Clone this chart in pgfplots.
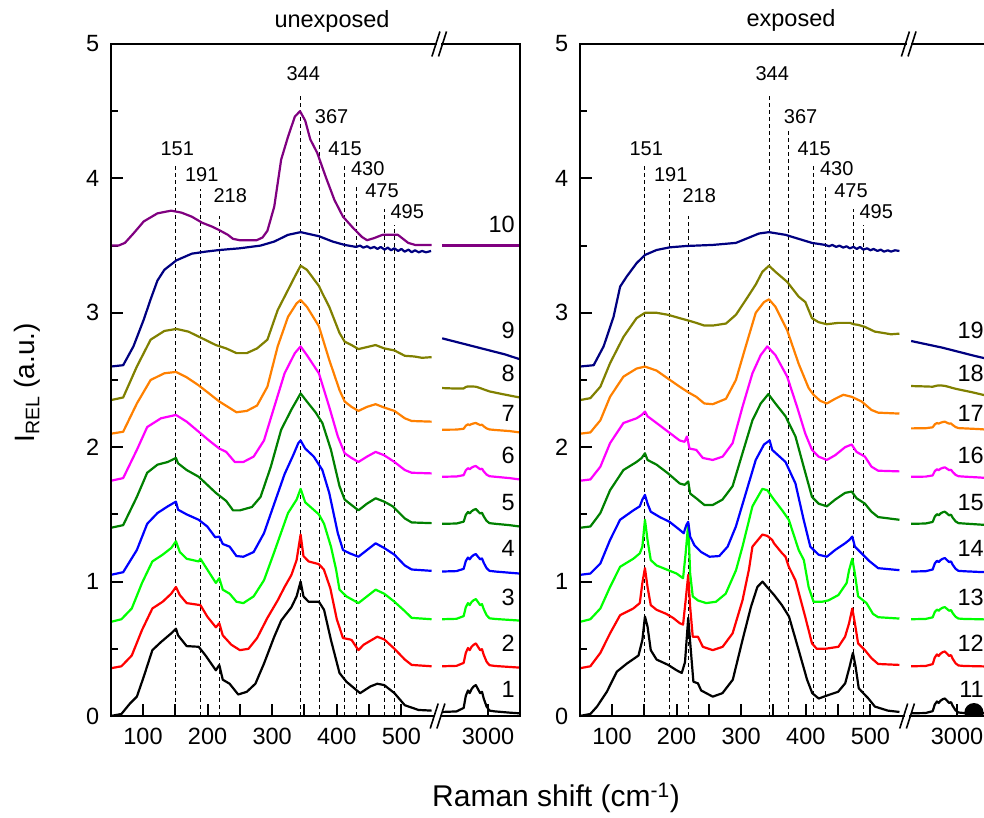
\documentclass[border=0pt]{standalone}
\usepackage{pgfplots}
\pgfplotsset{compat=1.18}
\usepackage{fontspec}
\setmainfont{Liberation Sans}
\definecolor{cred}{RGB}{255,0,0}
\definecolor{cgreen}{RGB}{0,255,0}
\definecolor{cblue}{RGB}{0,0,255}
\definecolor{cdgreen}{RGB}{0,128,0}
\definecolor{cmag}{RGB}{255,0,255}
\definecolor{corange}{RGB}{255,128,0}
\definecolor{colive}{RGB}{128,128,0}
\definecolor{cnavy}{RGB}{0,0,128}
\definecolor{cpurple}{RGB}{128,0,128}
\tikzset{
  dl/.style={black, line width=1pt, dash pattern=on 4pt off 3pt},
  pl/.style={anchor=base, font=\fontsize{20}{20}\selectfont, inner sep=0pt},
  nl/.style={anchor=base east, font=\fontsize{23.5}{23.5}\selectfont, inner sep=0pt}
}
\pgfplotsset{
  base/.style={scale only axis, height=672pt, ymin=0, ymax=5, anchor=south west,
    axis line style={draw=none}, tick align=inside, tick pos=left,
    every tick/.style={black, line width=2pt},
    major tick length=12pt, minor tick length=7pt,
    tick label style={font=\fontsize{23.5}{23.5}\selectfont},
    /pgf/number format/assume math mode=true,
    /pgf/number format/1000 sep={},
    xticklabel style={yshift=-9pt}, yticklabel style={xshift=-8pt},
    clip=false,
    every axis plot/.append style={line width=2.2pt, line join=round, no markers}},
  subA/.style={base, width=323.3pt, xmin=50, xmax=550.5,
    xtick={100,150,...,500}, xticklabels={100,,200,,300,,400,,500},
    ytick={0,1,2,3,4,5}, minor ytick={0.5,1.5,2.5,3.5,4.5}},
  subB/.style={base, width=79pt, xmin=2672, xmax=3223, xtick={3000}, xticklabels={3000}, ytick=\empty}
}
\newcommand{\peaklines}{%
  \draw[dl] (axis cs:151,0) -- (axis cs:151,4.09);
  \draw[dl] (axis cs:189,0) -- (axis cs:189,3.92);
  \draw[dl] (axis cs:218,0) -- (axis cs:218,3.72);
  \draw[dl] (axis cs:344,0) -- (axis cs:344,4.62);
  \draw[dl] (axis cs:373,0) -- (axis cs:373,4.35);
  \draw[dl] (axis cs:412,0) -- (axis cs:412,4.10);
  \draw[dl] (axis cs:430,0) -- (axis cs:430,3.94);
  \draw[dl] (axis cs:474,0) -- (axis cs:474,3.77);
  \draw[dl] (axis cs:489,0) -- (axis cs:489,3.65);
  \node[pl] at (axis cs:153,4.17) {151};
  \node[pl] at (axis cs:191,3.98) {191};
  \node[pl] at (axis cs:235,3.82) {218};
  \node[pl] at (axis cs:348,4.73) {344};
  \node[pl] at (axis cs:392,4.41) {367};
  \node[pl] at (axis cs:413,4.17) {415};
  \node[pl] at (axis cs:448,4.02) {430};
  \node[pl] at (axis cs:470,3.86) {475};
  \node[pl] at (axis cs:509,3.70) {495};
}
\begin{document}
\begin{tikzpicture}
% ================= LEFT PANEL (unexposed) =================
\begin{axis}[subA, at={(110.7pt,102pt)}]
\peaklines
\addplot[black] coordinates {(50,0.0)(66.6,0.015)(80,0.094)(90.5,0.144)(101,0.29)(114.5,0.49)(127.8,0.55)(143.7,0.615)(151,0.65)(154.3,0.60)(167.6,0.52)(186.2,0.515)(196.9,0.45)(212.8,0.34)(218.1,0.38)(223.5,0.27)(234.1,0.24)(247.4,0.16)(260.7,0.18)(274,0.24)(287.3,0.39)(303.2,0.59)(313.9,0.71)(329.8,0.81)(337.8,0.89)(344,1.0)(348.4,0.89)(356.4,0.85)(372.3,0.85)(380.3,0.79)(391,0.565)(404.2,0.32)(414.9,0.255)(436.1,0.17)(452.1,0.22)(462.7,0.24)(473.4,0.23)(489.3,0.17)(505.3,0.08)(526.5,0.045)(546.7,0.04)};
\addplot[cred] coordinates {(50,0.355)(66.6,0.37)(82.6,0.45)(98.5,0.64)(114.5,0.80)(130.4,0.85)(143.7,0.91)(151,0.96)(157,0.90)(167.6,0.84)(188.9,0.825)(199.5,0.74)(212.8,0.66)(218.1,0.69)(223.5,0.60)(236.8,0.53)(250,0.49)(263.3,0.50)(276.6,0.58)(292.6,0.73)(308.5,0.86)(319.2,0.96)(329.8,1.05)(337.8,1.16)(344,1.35)(348.4,1.19)(356.4,1.15)(372,1.13)(380,1.09)(390,0.95)(400,0.72)(409.6,0.58)(420,0.57)(423,0.565)(433.5,0.49)(441.5,0.53)(462.7,0.59)(473.4,0.57)(489.3,0.50)(505.3,0.42)(515.9,0.38)(546.7,0.37)};
\addplot[cgreen] coordinates {(50,0.70)(66.6,0.72)(82.6,0.80)(98.5,0.99)(114.5,1.15)(130.4,1.20)(143.7,1.25)(151,1.30)(157,1.22)(167.6,1.17)(186.2,1.15)(188.9,1.17)(199.5,1.09)(212.8,0.99)(218.1,1.025)(223.5,0.94)(234.1,0.91)(244.7,0.85)(255.4,0.84)(271.3,0.89)(287.3,1.01)(303.2,1.22)(324.5,1.51)(337.8,1.61)(344,1.69)(351.1,1.59)(372.3,1.50)(380.3,1.43)(391,1.26)(398.9,1.09)(404.2,0.94)(414.9,0.89)(433.5,0.84)(446.8,0.89)(460.1,0.94)(473.4,0.91)(489.3,0.85)(505.3,0.78)(515.9,0.73)(546.7,0.72)};
\addplot[cblue] coordinates {(50,1.05)(69.3,1.07)(90.5,1.235)(106.5,1.43)(122.4,1.51)(138.4,1.56)(151,1.595)(154.3,1.535)(167.6,1.50)(186.2,1.46)(199.5,1.41)(211.8,1.33)(218.1,1.335)(223.5,1.28)(234.1,1.26)(244.7,1.19)(255.4,1.185)(271.3,1.22)(287.3,1.36)(303.2,1.58)(319.2,1.80)(332.5,1.94)(340.4,2.03)(344,2.05)(351.1,1.99)(364.4,1.93)(377.7,1.83)(388.3,1.66)(401.6,1.36)(409.6,1.235)(420.2,1.21)(433.5,1.185)(446.8,1.235)(460.1,1.285)(473.4,1.25)(489.3,1.20)(505.3,1.12)(515.9,1.09)(546.7,1.08)};
\addplot[cdgreen] coordinates {(50,1.40)(69.3,1.42)(90.5,1.63)(106.5,1.81)(122.4,1.87)(138.4,1.89)(151,1.92)(154.3,1.88)(167.6,1.83)(186.2,1.78)(199.5,1.72)(212.8,1.66)(228.8,1.60)(239.4,1.53)(250,1.53)(268.7,1.555)(282,1.63)(297.9,1.855)(313.9,2.13)(329.8,2.28)(344,2.40)(353.7,2.34)(367,2.26)(377.7,2.18)(391,1.98)(404.2,1.71)(412.2,1.61)(422.8,1.57)(433.5,1.53)(446.8,1.58)(460.1,1.62)(473.4,1.595)(486.6,1.56)(505.3,1.47)(515.9,1.44)(546.7,1.435)};
\addplot[cmag] coordinates {(50,1.75)(69.3,1.77)(90.5,1.98)(106.5,2.15)(127.8,2.215)(151,2.24)(167.6,2.19)(186.2,2.115)(202.2,2.05)(218.1,1.99)(228.8,1.965)(242.1,1.89)(255.4,1.89)(271.3,1.93)(287.3,2.05)(303.2,2.30)(319.2,2.55)(335.1,2.70)(344,2.75)(353.7,2.685)(372.3,2.55)(388.3,2.30)(401.6,2.08)(412.2,1.955)(422.8,1.92)(433.5,1.89)(446.8,1.93)(460.1,1.965)(473.4,1.94)(489.3,1.89)(505.3,1.83)(515.9,1.81)(546.7,1.805)};
\addplot[corange] coordinates {(50,2.10)(69.3,2.115)(90.5,2.325)(111.8,2.50)(133.1,2.55)(151,2.56)(167.6,2.52)(186.2,2.46)(202.2,2.40)(218.1,2.34)(231.4,2.30)(244.7,2.26)(260.7,2.27)(276.6,2.31)(292.6,2.45)(308.5,2.75)(324.5,2.97)(337.8,3.07)(344,3.095)(353.7,3.045)(372.3,2.90)(388.3,2.65)(404.2,2.425)(412.2,2.34)(422.8,2.30)(433.5,2.27)(446.8,2.30)(460.1,2.32)(473.4,2.295)(489.3,2.27)(505.3,2.215)(515.9,2.195)(546.7,2.19)};
\addplot[colive] coordinates {(50,2.35)(69.3,2.37)(90.5,2.60)(111.8,2.80)(133.1,2.865)(151.7,2.88)(170.3,2.86)(191.6,2.81)(212.8,2.76)(228.8,2.735)(244.7,2.70)(260.7,2.70)(276.6,2.735)(292.6,2.80)(308.5,3.02)(324.5,3.17)(335.1,3.27)(344,3.35)(353.7,3.32)(372.3,3.20)(377.7,3.145)(388.3,3.045)(404.2,2.85)(412.2,2.785)(422.8,2.76)(433.5,2.73)(446.8,2.745)(460.1,2.76)(473.4,2.735)(489.3,2.72)(505.3,2.68)(520,2.675)(532,2.665)(546.7,2.67)};
\addplot[cnavy] coordinates {(50,2.60)(69.3,2.61)(85.2,2.75)(101.2,2.95)(111.8,3.10)(122.4,3.24)(133.1,3.32)(151.7,3.39)(175.6,3.44)(196.9,3.455)(218.1,3.467)(250,3.48)(282,3.50)(303.2,3.53)(324.5,3.58)(344,3.60)(372.3,3.57)(393.6,3.53)(412.2,3.505)(430,3.49)(436,3.50)(441,3.485)(447,3.495)(452,3.48)(458,3.49)(463,3.475)(468,3.49)(474,3.47)(479,3.485)(484,3.465)(489,3.48)(495,3.46)(500,3.475)(505,3.455)(511,3.47)(516,3.45)(521,3.465)(527,3.45)(532,3.46)(538,3.45)(546,3.46)};
\addplot[cpurple] coordinates {(50,3.50)(62,3.50)(72,3.52)(85.2,3.59)(101.2,3.68)(122.4,3.74)(143.7,3.76)(159.7,3.745)(175.6,3.715)(191.6,3.67)(207.5,3.64)(218.1,3.615)(231.4,3.58)(239.4,3.55)(250,3.54)(276,3.54)(285,3.56)(292.6,3.61)(303.2,3.79)(313.9,4.14)(324.5,4.31)(335.1,4.46)(343.1,4.50)(351.1,4.43)(359,4.29)(369.7,4.19)(383,4.01)(396.3,3.84)(409.6,3.715)(425.5,3.63)(438.8,3.565)(446.8,3.54)(457.4,3.555)(470.7,3.58)(494.6,3.58)(510.6,3.52)(521.2,3.505)(546.7,3.505)};
\end{axis}
\begin{axis}[subB, at={(441pt,102pt)}]
\addplot[black] coordinates {(2680,0.03)(2780,0.034)(2830,0.06)(2845,0.15)(2860,0.19)(2872,0.17)(2885,0.20)(2900,0.22)(2915,0.23)(2930,0.20)(2945,0.17)(2958,0.18)(2970,0.13)(2990,0.07)(3010,0.04)(3050,0.034)(3150,0.025)(3220,0.02)};
\addplot[cred] coordinates {(2680,0.37)(2780,0.373)(2830,0.395)(2845,0.47)(2860,0.506)(2872,0.49)(2885,0.515)(2900,0.53)(2915,0.54)(2930,0.515)(2945,0.49)(2958,0.497)(2970,0.455)(2990,0.404)(3010,0.378)(3050,0.372)(3150,0.365)(3220,0.36)};
\addplot[cgreen] coordinates {(2680,0.72)(2780,0.723)(2830,0.743)(2845,0.81)(2860,0.84)(2872,0.825)(2885,0.848)(2900,0.862)(2915,0.87)(2930,0.848)(2945,0.825)(2958,0.832)(2970,0.795)(2990,0.75)(3010,0.727)(3050,0.722)(3150,0.715)(3220,0.71)};
\addplot[cblue] coordinates {(2680,1.075)(2780,1.078)(2830,1.095)(2845,1.153)(2860,1.179)(2872,1.166)(2885,1.185)(2900,1.198)(2915,1.205)(2930,1.185)(2945,1.166)(2958,1.172)(2970,1.14)(2990,1.10)(3010,1.08)(3050,1.075)(3150,1.066)(3220,1.06)};
\addplot[cdgreen] coordinates {(2680,1.43)(2780,1.432)(2830,1.446)(2845,1.496)(2860,1.518)(2872,1.507)(2885,1.523)(2900,1.534)(2915,1.54)(2930,1.523)(2945,1.507)(2958,1.512)(2970,1.485)(2990,1.452)(3010,1.435)(3050,1.43)(3150,1.42)(3220,1.41)};
\addplot[cmag] coordinates {(2680,1.78)(2780,1.782)(2830,1.792)(2845,1.828)(2860,1.844)(2872,1.836)(2885,1.848)(2900,1.856)(2915,1.86)(2930,1.848)(2945,1.836)(2958,1.84)(2970,1.82)(2990,1.796)(3010,1.784)(3050,1.78)(3150,1.77)(3220,1.76)};
\addplot[corange] coordinates {(2680,2.13)(2780,2.131)(2830,2.137)(2845,2.16)(2860,2.17)(2872,2.165)(2885,2.172)(2900,2.177)(2915,2.18)(2930,2.172)(2945,2.165)(2958,2.167)(2970,2.155)(2990,2.14)(3010,2.132)(3050,2.128)(3150,2.12)(3220,2.11)};
\addplot[colive] coordinates {(2680,2.44)(2780,2.436)(2830,2.437)(2845,2.448)(2860,2.452)(2885,2.452)(2915,2.45)(2945,2.44)(2970,2.43)(3010,2.415)(3100,2.395)(3220,2.37)};
\addplot[cnavy] coordinates {(2680,2.81)(2790,2.78)(2900,2.75)(3010,2.72)(3120,2.69)(3220,2.655)};
\addplot[cpurple] coordinates {(2680,3.50)(3220,3.50)};
\node[nl] at (axis cs:3188,0.14) {1};
\node[nl] at (axis cs:3188,0.48) {2};
\node[nl] at (axis cs:3188,0.82) {3};
\node[nl] at (axis cs:3188,1.19) {4};
\node[nl] at (axis cs:3188,1.53) {5};
\node[nl] at (axis cs:3188,1.88) {6};
\node[nl] at (axis cs:3188,2.19) {7};
\node[nl] at (axis cs:3188,2.49) {8};
\node[nl] at (axis cs:3188,2.81) {9};
\node[nl] at (axis cs:3188,3.60) {10};
\end{axis}
% ================= RIGHT PANEL (exposed) =================
\begin{axis}[subA, at={(579.7pt,102pt)}]
\peaklines
\addplot[black] coordinates {(50,0)(66.5,0.015)(76.8,0.07)(92,0.18)(107.5,0.33)(123,0.39)(141,0.45)(147,0.565)(151,0.74)(155,0.665)(160,0.49)(169,0.42)(187,0.38)(200,0.34)(208,0.32)(213,0.40)(218,0.73)(222,0.49)(226,0.255)(233,0.243)(238,0.19)(256,0.144)(271,0.17)(287,0.27)(302,0.565)(315,0.81)(325,0.96)(333,1.0)(340,0.96)(351,0.90)(363,0.825)(374,0.74)(389,0.49)(402,0.27)(410,0.17)(420,0.13)(435,0.156)(450,0.18)(461,0.243)(468,0.37)(473,0.47)(477,0.37)(482,0.206)(489,0.17)(497,0.13)(507,0.07)(527,0.04)(545,0.03)};
\addplot[cred] coordinates {(50,0.355)(66.5,0.37)(82,0.47)(97,0.615)(112.5,0.75)(133,0.80)(143,0.84)(147,0.99)(151,1.10)(155,0.96)(160,0.825)(169,0.79)(184,0.76)(194.5,0.73)(205,0.69)(210,0.68)(214,0.86)(218,1.05)(221,0.81)(225,0.59)(233,0.59)(240.6,0.515)(256,0.49)(271.3,0.515)(286.7,0.615)(302,0.86)(312,1.09)(317.4,1.26)(332.8,1.35)(340.4,1.34)(348,1.31)(350.7,1.285)(363.5,1.21)(368.6,1.185)(373.7,1.11)(384,1.01)(399,0.74)(409.6,0.54)(417,0.50)(430,0.50)(450.5,0.515)(460.8,0.59)(467,0.69)(472,0.80)(476,0.69)(481,0.54)(491.5,0.49)(501.7,0.43)(512,0.387)(545,0.38)};
\addplot[cgreen] coordinates {(50,0.70)(66.5,0.72)(82,0.80)(97,0.96)(112.5,1.11)(133,1.17)(143,1.21)(147,1.26)(151,1.46)(155,1.31)(160,1.16)(169,1.12)(187,1.085)(200,1.06)(210,1.025)(214,1.21)(218,1.43)(221,1.06)(225,0.89)(233,0.86)(245.7,0.84)(261,0.85)(276,0.91)(292,1.085)(302,1.26)(317.4,1.56)(332.8,1.69)(340.4,1.68)(350.7,1.61)(363.5,1.53)(373.7,1.46)(389,1.235)(397,1.16)(404.4,0.96)(412,0.85)(425,0.85)(435,0.86)(450.5,0.90)(463.3,0.99)(467,1.085)(472,1.17)(476,1.06)(481,0.89)(494,0.84)(504,0.76)(512,0.735)(545,0.725)};
\addplot[cblue] coordinates {(50,1.05)(66.5,1.06)(82,1.135)(97,1.31)(112.5,1.46)(133,1.53)(143,1.56)(147,1.61)(151,1.645)(155,1.58)(160,1.52)(174,1.48)(189,1.445)(204.8,1.385)(211,1.36)(215,1.42)(218,1.445)(221,1.335)(227.7,1.27)(238,1.22)(250.9,1.185)(266,1.19)(279,1.26)(291.8,1.41)(307,1.655)(322.5,1.905)(335.3,2.02)(344,2.05)(348,1.98)(368.6,1.89)(384,1.73)(396.7,1.46)(407,1.26)(419.8,1.20)(432.6,1.185)(445.4,1.235)(460.8,1.285)(467.4,1.31)(472,1.335)(476,1.26)(486.4,1.21)(499,1.15)(512,1.10)(545,1.085)};
\addplot[cdgreen] coordinates {(50,1.40)(66.5,1.41)(82,1.51)(97,1.68)(117.7,1.83)(138,1.89)(146,1.92)(151,1.955)(155,1.905)(169,1.87)(186.8,1.805)(204.8,1.73)(212.4,1.72)(218,1.745)(221,1.655)(230.4,1.62)(243,1.57)(256,1.57)(271,1.61)(286.7,1.71)(302,1.955)(317.4,2.20)(330.2,2.325)(342,2.395)(353,2.325)(368.6,2.23)(384,2.08)(396.7,1.855)(409.6,1.63)(419.8,1.58)(432.6,1.56)(445.4,1.61)(460.8,1.66)(471,1.67)(478.6,1.62)(491.5,1.58)(501.7,1.52)(512,1.48)(545,1.46)};
\addplot[cmag] coordinates {(50,1.75)(66.5,1.76)(82,1.855)(97,2.03)(117.7,2.18)(138,2.215)(146,2.24)(151,2.265)(155,2.23)(169,2.18)(186.8,2.115)(204.8,2.05)(212.4,2.04)(216,2.08)(220,1.99)(230.4,1.98)(240.6,1.92)(256,1.905)(271.3,1.93)(286.7,2.03)(302,2.30)(317.4,2.55)(330.2,2.685)(340.4,2.75)(353,2.685)(371.2,2.525)(386.5,2.30)(399.3,2.10)(409.6,1.98)(419.8,1.93)(432.6,1.905)(445.4,1.94)(460.8,2.0)(471,2.02)(478.6,1.965)(491.5,1.93)(501.7,1.855)(512,1.825)(545,1.82)};
\addplot[corange] coordinates {(50,2.10)(66.5,2.11)(82,2.20)(97,2.375)(117.7,2.525)(138,2.585)(151,2.60)(169,2.57)(186.8,2.51)(204.8,2.45)(217.6,2.41)(230.4,2.375)(243,2.325)(256,2.32)(276.4,2.36)(291.8,2.50)(307,2.75)(322.5,3.0)(335.3,3.08)(343,3.10)(353,3.045)(371.2,2.87)(389,2.62)(404.4,2.44)(412,2.39)(422.3,2.345)(432.6,2.325)(445.4,2.36)(458,2.39)(471,2.375)(486.4,2.34)(501.7,2.277)(512,2.257)(545,2.25)};
\addplot[colive] coordinates {(50,2.35)(66.5,2.365)(82,2.45)(97,2.625)(117.7,2.82)(138,2.96)(151,3.0)(169,3.0)(186.8,2.985)(204.8,2.96)(220,2.94)(230.4,2.925)(243,2.905)(256,2.905)(276.4,2.92)(291.8,2.985)(307,3.095)(322.5,3.21)(332.8,3.305)(343,3.35)(353,3.305)(371.2,3.23)(389,3.12)(399.3,3.08)(409.6,2.96)(419.8,2.93)(432.6,2.915)(450.5,2.925)(468.4,2.925)(474,2.915)(481.2,2.91)(491.5,2.895)(506.8,2.86)(520,2.85)(532,2.84)(545,2.845)};
\addplot[cnavy] coordinates {(50,2.60)(71.6,2.61)(87,2.75)(102.4,2.97)(112.6,3.195)(122.8,3.27)(138.2,3.37)(151,3.43)(168.9,3.467)(189.4,3.487)(215,3.497)(256,3.505)(291.8,3.52)(307.2,3.55)(327.6,3.59)(343,3.60)(368.6,3.58)(389,3.55)(409.6,3.52)(430,3.505)(436,3.495)(441,3.505)(447,3.49)(452,3.50)(458,3.485)(463,3.495)(468,3.48)(474,3.49)(479,3.475)(484,3.49)(489,3.47)(495,3.48)(500,3.465)(505,3.475)(511,3.46)(516,3.47)(521,3.455)(527,3.465)(532,3.455)(538,3.465)(545,3.46)};
\end{axis}
\begin{axis}[subB, at={(910pt,102pt)}, clip=true, clip marker paths=true]
\addplot[black] coordinates {(2680,0.02)(2780,0.022)(2830,0.036)(2845,0.086)(2860,0.108)(2872,0.097)(2885,0.114)(2900,0.125)(2915,0.13)(2930,0.114)(2945,0.097)(2958,0.103)(2970,0.075)(2990,0.042)(3010,0.026)(3050,0.022)(3150,0.02)(3220,0.02)};
\addplot[cred] coordinates {(2680,0.37)(2780,0.372)(2830,0.386)(2845,0.436)(2860,0.458)(2872,0.447)(2885,0.464)(2900,0.475)(2915,0.48)(2930,0.464)(2945,0.447)(2958,0.453)(2970,0.425)(2990,0.392)(3010,0.376)(3050,0.372)(3150,0.37)(3220,0.368)};
\addplot[cgreen] coordinates {(2680,0.72)(2780,0.722)(2830,0.734)(2845,0.774)(2860,0.792)(2872,0.783)(2885,0.797)(2900,0.806)(2915,0.81)(2930,0.797)(2945,0.783)(2958,0.788)(2970,0.765)(2990,0.738)(3010,0.725)(3050,0.722)(3150,0.72)(3220,0.718)};
\addplot[cblue] coordinates {(2680,1.075)(2780,1.077)(2830,1.09)(2845,1.135)(2860,1.155)(2872,1.145)(2885,1.16)(2900,1.17)(2915,1.175)(2930,1.16)(2945,1.145)(2958,1.15)(2970,1.125)(2990,1.095)(3010,1.08)(3050,1.077)(3150,1.072)(3220,1.07)};
\addplot[cdgreen] coordinates {(2680,1.43)(2780,1.432)(2830,1.444)(2845,1.484)(2860,1.502)(2872,1.493)(2885,1.507)(2900,1.516)(2915,1.52)(2930,1.507)(2945,1.493)(2958,1.498)(2970,1.475)(2990,1.448)(3010,1.435)(3050,1.432)(3150,1.425)(3220,1.42)};
\addplot[cmag] coordinates {(2680,1.78)(2780,1.781)(2830,1.79)(2845,1.822)(2860,1.836)(2872,1.829)(2885,1.84)(2900,1.846)(2915,1.85)(2930,1.84)(2945,1.829)(2958,1.832)(2970,1.815)(2990,1.794)(3010,1.784)(3050,1.781)(3150,1.775)(3220,1.77)};
\addplot[corange] coordinates {(2680,2.14)(2780,2.141)(2830,2.148)(2845,2.17)(2860,2.18)(2872,2.175)(2885,2.182)(2900,2.187)(2915,2.19)(2930,2.182)(2945,2.175)(2958,2.177)(2970,2.165)(2990,2.15)(3010,2.142)(3050,2.14)(3150,2.135)(3220,2.13)};
\addplot[colive] coordinates {(2680,2.455)(2780,2.452)(2830,2.45)(2860,2.458)(2885,2.46)(2915,2.456)(2945,2.448)(2970,2.44)(3010,2.43)(3100,2.41)(3220,2.38)};
\addplot[cnavy] coordinates {(2680,2.79)(2790,2.765)(2900,2.74)(3010,2.71)(3120,2.68)(3220,2.655)};
\addplot[only marks, mark=*, mark size=8.5pt, black] coordinates {(3118,0.025)};
\node[nl] at (axis cs:3188,0.14) {11};
\node[nl] at (axis cs:3188,0.48) {12};
\node[nl] at (axis cs:3188,0.82) {13};
\node[nl] at (axis cs:3188,1.19) {14};
\node[nl] at (axis cs:3188,1.53) {15};
\node[nl] at (axis cs:3188,1.88) {16};
\node[nl] at (axis cs:3188,2.19) {17};
\node[nl] at (axis cs:3188,2.49) {18};
\node[nl] at (axis cs:3188,2.81) {19};
\end{axis}
% ================= frames and breaks =================
\begin{scope}[line width=2.2pt, line cap=rect]
\draw (434.2pt,102pt) -- (110.7pt,102pt) -- (110.7pt,774pt) -- (435.9pt,774pt);
\draw (440.9pt,102pt) -- (520pt,102pt) -- (520pt,774pt) -- (442.5pt,774pt);
\draw (903.7pt,102pt) -- (579.7pt,102pt) -- (579.7pt,774pt) -- (905.4pt,774pt);
\draw (910.4pt,102pt) -- (989pt,102pt) -- (989pt,774pt) -- (912pt,774pt);
\end{scope}
\begin{scope}[line width=1.6pt]
\foreach \cx/\cy in {434.2/102, 440.9/102, 435.9/774, 442.5/774, 903.7/102, 910.4/102, 905.4/774, 912/774}{
  \draw (\cx pt-4pt,\cy pt-12.5pt) -- (\cx pt+4pt,\cy pt+12.5pt);
}
\end{scope}
% ================= titles and labels =================
\node[anchor=base, font=\fontsize{23.5}{23.5}\selectfont] at (332pt,790.5pt) {unexposed};
\node[anchor=base, font=\fontsize{23.5}{23.5}\selectfont] at (791pt,791.3pt) {exposed};
\node[anchor=base, font=\fontsize{30}{30}\selectfont] at (556pt,11.3pt) {Raman shift (cm\textsuperscript{-1})};
\node[anchor=base, rotate=90, font=\fontsize{28}{28}\selectfont] at (34.5pt,435pt) {I\textsubscript{REL} (a.u.)};
\pgfresetboundingbox
\useasboundingbox (0pt,0pt) rectangle (984pt,818pt);
\end{tikzpicture}
\end{document}
